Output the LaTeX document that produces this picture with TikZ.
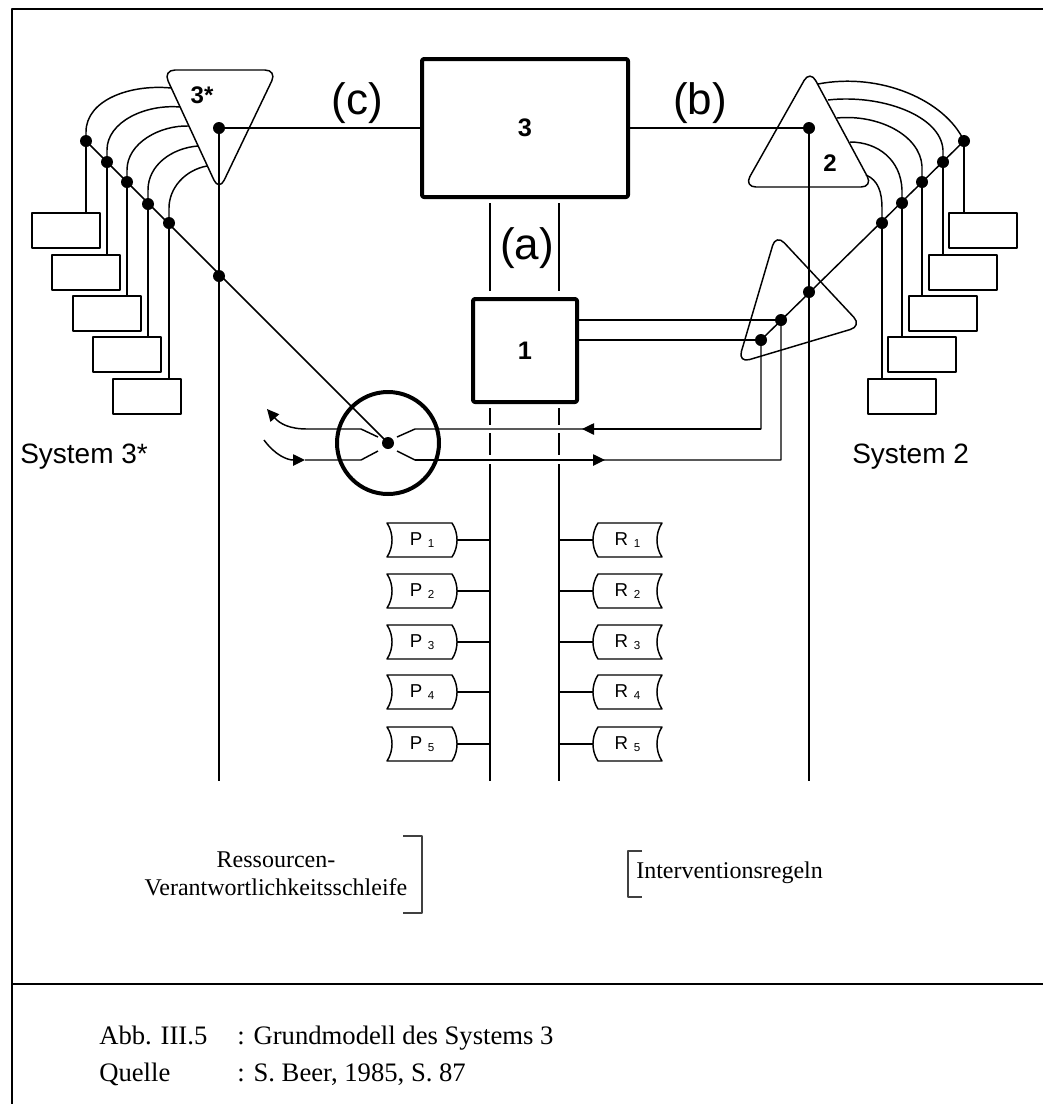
\documentclass[tikz,border=0pt]{standalone}
\usepackage{fontspec}
\setmainfont{Liberation Serif}
\setsansfont{Liberation Sans}
\usetikzlibrary{arrows.meta,calc}
\newcommand{\subnum}[1]{\hspace{0.3em}\raisebox{-1pt}{\fontsize{8.7}{10}\selectfont #1}}
\begin{document}
\begin{tikzpicture}[x=0.75pt, y=-0.75pt, line join=round,
  ln/.style={line width=1.1pt},
  heavybox/.style={draw, line width=3pt, rounded corners=1.5pt, inner sep=0, outer sep=0, font=\sffamily\bfseries\fontsize{19}{22}\selectfont},
  dot/.style={circle, fill, inner sep=0, minimum size=9pt},
  sbox/.style={draw, line width=1.1pt, minimum width=51pt, minimum height=26.25pt, inner sep=0, outer sep=0, anchor=north west},
  tri/.style={draw, line width=1.1pt, rounded corners=9pt},
  arr/.style={-{Triangle[length=9pt,width=8.5pt]}},
  plbl/.style={inner sep=0, outer sep=0, minimum width=52.5pt, minimum height=25.5pt, font=\sffamily\fontsize{14}{16}\selectfont},
  brk/.style={line width=1.1pt, black!75},
  big/.style={inner sep=0, font=\sffamily\fontsize{33}{36}\selectfont},
  num/.style={inner sep=0, font=\sffamily\bfseries\fontsize{18}{20}\selectfont},
  sys/.style={inner sep=0, anchor=base west, font=\sffamily\fontsize{21}{24}\selectfont},
  serif/.style={inner sep=0, font=\fontsize{18}{21}\selectfont},
  capt/.style={inner sep=0, anchor=base west, font=\fontsize{20}{24}\selectfont}
]
\useasboundingbox (0,0) rectangle (1043,1104);

% frame
\draw[line width=1.8pt] (1050,9) -- (12,9) -- (12,1110);
\draw[line width=1.8pt] (12,984) -- (1050,984);

% main boxes
\node[heavybox, minimum width=154.5pt, minimum height=103.5pt] (b3) at (525,128) {3};
\node[heavybox, minimum width=78pt, minimum height=77.25pt] (b1) at (525,350.5) {1};

% triangles
\draw[tri] (163,70) -- (277,70) -- (219,191) -- cycle;
\draw[tri] (810,70) -- (873,187) -- (744,187) -- cycle;
\draw[tri] (776,234) -- (862,326) -- (738,363) -- cycle;
\node[num] (t3s) at (202,95) {3*};
\node[num] (t2) at (830,163) {2};

% dots
\node[dot] (d3s) at (219,128) {};
\node[dot] (d2) at (809,128) {};
\node[dot] (Ld1) at (86,141) {};
\node[dot] (Ld2) at (107,162) {};
\node[dot] (Ld3) at (127,182) {};
\node[dot] (Ld4) at (148,204) {};
\node[dot] (Ld5) at (169,223) {};
\node[dot] (Ld6) at (219,276) {};
\node[dot] (Rd1) at (964,141) {};
\node[dot] (Rd2) at (943,162) {};
\node[dot] (Rd3) at (922,182) {};
\node[dot] (Rd4) at (902,203) {};
\node[dot] (Rd5) at (882,223) {};
\node[dot] (S1) at (809,292) {};
\node[dot] (S2) at (781,320) {};
\node[dot] (S3) at (761,340) {};

% circle
\node[circle, draw, line width=3pt, minimum size=76.5pt, inner sep=0] (circ) at (388,443) {};
\node[dot] (cd) at (circ.center) {};

% helper coordinates
\coordinate (v3e) at (219,781);
\coordinate (v2e) at (809,781);
\coordinate (mL) at (490,781);
\coordinate (mR) at (559,781);
\coordinate (aLt) at (490,203); \coordinate (aLb) at (490,291);
\coordinate (aRt) at (559,203); \coordinate (aRb) at (559,291);
\coordinate (dLt) at (490,408); \coordinate (dRt) at (559,408);

% links to box 3
\draw[ln] (d3s.center) -- (b3.west);
\draw[ln] (b3.east) -- (d2.center);
\draw[ln] (d3s.center) -- (v3e);
\draw[ln] (d2.center) -- (v2e);

% (a) channel
\draw[ln] (aLt) -- (aLb);
\draw[ln] (aRt) -- (aRb);
\draw[ln, dash pattern=on 12.75pt off 6pt on 16.5pt off 6.75pt on 400pt] (dLt) -- (mL);
\draw[ln, dash pattern=on 12.75pt off 6pt on 16.5pt off 6.75pt on 400pt] (dRt) -- (mR);

% box 1 to small triangle
\draw[ln] (b1.east |- S2) -- (S2.center);
\draw[ln] (b1.east |- S3) -- (S3.center);

% diagonals
\draw[ln] (Ld1.center) -- (cd.center);
\draw[ln] (Rd1.center) -- (S3.center);

% left arcs
\draw[ln] (Ld1.center) -- (86,132) .. controls (86,100) and (130,84) .. (171,88);
\draw[ln] (Ld2.center) -- (107,150) .. controls (107,122) and (145,104) .. (180,107);
\draw[ln] (Ld3.center) -- (127,170) .. controls (127,143) and (160,125) .. (189,126);
\draw[ln] (Ld4.center) -- (148,190) .. controls (148,165) and (172,148) .. (198,146);
\draw[ln] (Ld5.center) -- (169,208) .. controls (169,188) and (185,170) .. (207,166);

% right arcs
\draw[ln] (Rd1.center) .. controls (945,100) and (880,72) .. (818,84);
\draw[ln] (Rd2.center) -- (943,150) .. controls (941,115) and (880,94) .. (828,100);
\draw[ln] (Rd3.center) -- (922,166) .. controls (920,135) and (878,114) .. (837,118);
\draw[ln] (Rd4.center) -- (902,190) .. controls (901,160) and (878,142) .. (850,142);
\draw[ln] (Rd5.center) -- (882,208) .. controls (882,192) and (878,180) .. (866,175);

% small boxes left
\node[sbox] (lb1) at (32,213) {};
\node[sbox] (lb2) at (52,255) {};
\node[sbox] (lb3) at (73,296) {};
\node[sbox] (lb4) at (93,337) {};
\node[sbox] (lb5) at (113,379) {};
\foreach \i in {1,...,5}{\draw[ln] (Ld\i.center) -- (Ld\i.center |- lb\i.north);}
% small boxes right
\node[sbox] (rb1) at (949,213) {};
\node[sbox] (rb2) at (929,255) {};
\node[sbox] (rb3) at (909,296) {};
\node[sbox] (rb4) at (888,337) {};
\node[sbox] (rb5) at (868,379) {};
\foreach \i in {1,...,5}{\draw[ln] (Rd\i.center) -- (Rd\i.center |- rb\i.north);}

% feedback loops through the circle
\coordinate (uR) at (761,429); \coordinate (uA) at (582,429);
\coordinate (uC1) at (415,429); \coordinate (uC2) at (397,437);
\coordinate (uC3) at (378,437); \coordinate (uC4) at (361,429);
\coordinate (uL) at (307,429); \coordinate (uT) at (267,409);
\draw[ln] (S3.center) -- (uR) -- (uC1) -- (uC2);
\draw[ln, arr] (uR) -- (uA);
\draw[ln] (uC3) -- (uC4) -- (uL);
\draw[ln, arr] (uL) .. controls (290,429) and (280,424) .. (uT);

\coordinate (lR) at (781,460); \coordinate (lA) at (605,460);
\coordinate (lC1) at (415,460); \coordinate (lC2) at (397,451);
\coordinate (lC3) at (378,451); \coordinate (lC4) at (361,460);
\coordinate (lL) at (305,460); \coordinate (lT) at (264,440);
\draw[ln] (S2.center) -- (lR) -- (lC1) -- (lC2);
\draw[ln, arr] (lC1) -- (lA);
\draw[ln] (lC3) -- (lC4) -- (lL);
\draw[ln, arr] (lT) .. controls (275,455) and (287,460) .. (lL);

% P and R boxes
\foreach \i/\yy in {1/540,2/591,3/642,4/692,5/744}{
  \node[plbl] (P\i) at (422,\yy) {P\subnum{\i}};
  \draw[ln] (387,\yy-17) -- (452,\yy-17) .. controls (458.7,\yy-7) and (458.7,\yy+7) .. (452,\yy+17) -- (387,\yy+17) .. controls (393.7,\yy+7) and (393.7,\yy-7) .. (387,\yy-17) -- cycle;
  \draw[ln] (P\i.east) -- (P\i.east -| mL);
  \node[plbl] (R\i) at (627.5,\yy) {R\subnum{\i}};
  \draw[ln] (598,\yy-17) -- (662,\yy-17) .. controls (655.3,\yy-7) and (655.3,\yy+7) .. (662,\yy+17) -- (598,\yy+17) .. controls (591.3,\yy+7) and (591.3,\yy-7) .. (598,\yy-17) -- cycle;
  \draw[ln] (R\i.west) -- (R\i.west -| mR);
}

% labels
\node[big] (la) at (527,248) {(a)};
\node[big] (lb) at (700,103) {(b)};
\node[big] (lc) at (357,103) {(c)};
\node[sys] (sys3) at (20,463) {System 3*};
\node[sys] (sys2) at (852,463) {System 2};

% lower texts
\node[serif, align=center] (res) at (276,874) {Ressourcen-\\Verantwortlichkeitsschleife};
\draw[brk] (403,836) -- (422,836) -- (422,913) -- (403,913);
\draw[brk] (642,851) -- (628,851) -- (628,897) -- (642,897);
\node[serif, anchor=west] (iv) at (636,873) {Interventionsregeln};

% caption
\node[capt] (c1a) at (99,1044) {Abb. III.5};
\node[capt] (c1b) at (237,1044) {: Grundmodell des Systems 3};
\node[capt] (c2a) at (99,1081) {Quelle};
\node[capt] (c2b) at (237,1081) {: S. Beer, 1985, S. 87};
\end{tikzpicture}
\end{document}
